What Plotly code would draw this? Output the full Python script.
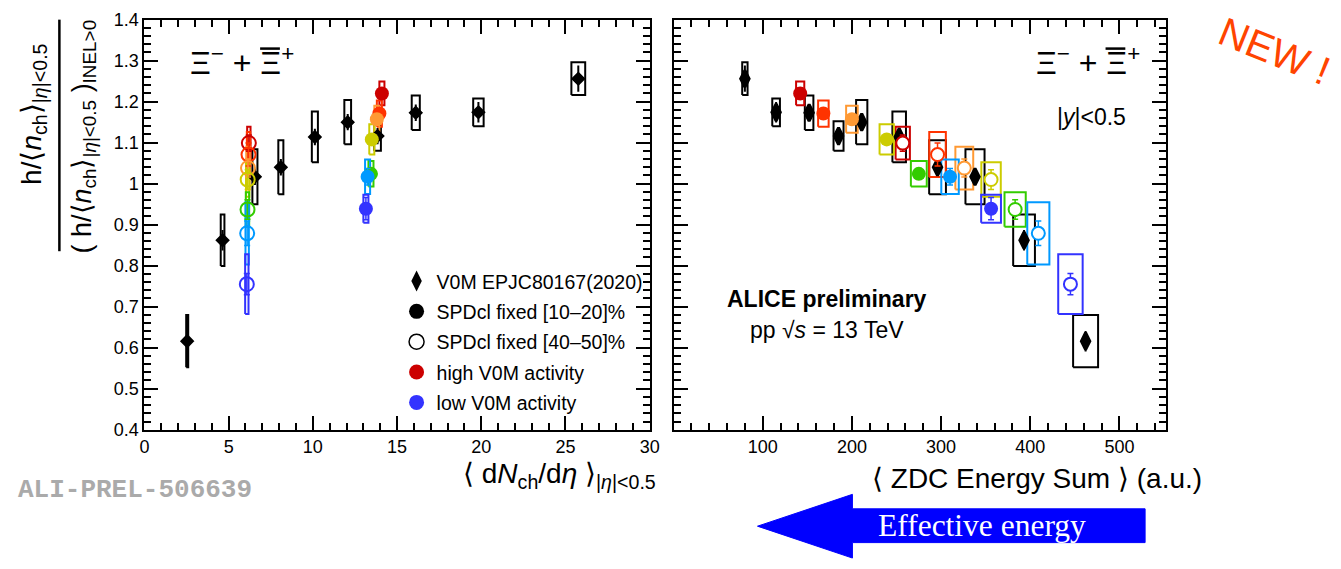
import plotly.graph_objects as go

# ---------------- data ----------------
# V0M multiplicity classes (EPJC 80 167 (2020))
dnch_v0m = [25.76, 19.83, 16.11, 13.84, 12.07, 10.12, 8.10, 6.56, 4.64, 2.54]
zdc_v0m = [80, 115, 152, 185, 211, 253, 296, 338, 393, 462]
ratio_v0m = [1.256, 1.174, 1.173, 1.116, 1.150, 1.114, 1.040, 1.017, 0.862, 0.616]
stat_v0m = [0.032, 0.025, 0.020, 0.020, 0.020, 0.020, 0.020, 0.020, 0.025, 0.025]
syst_v0m = [0.040, 0.034, 0.042, 0.036, 0.054, 0.062, 0.066, 0.067, 0.063, 0.0635]
sxd_v0m = [0.41, 0.31, 0.24, 0.20, 0.20, 0.18, 0.15, 0.15, 0.11, 0.06]
sxz_v0m = [3.0, 4.3, 4.8, 5.6, 6.3, 7.6, 9.4, 10.7, 12.2, 14.0]

# V0M activity classes, from high (red) to low (blue)
activity_colors = ["#cc0000", "#ff3300", "#ff9933", "#cccc00", "#33cc00", "#0099ff", "#3333ff"]

# SPD clusters fixed [10-20]%
dnch_hi = [14.10, 13.95, 13.80, 13.50, 13.45, 13.25, 13.15]
zdc_hi = [142, 168, 200, 239, 275, 310, 356]
ratio_hi = [1.220, 1.171, 1.157, 1.108, 1.024, 1.017, 0.939]
stat_hi = [0.012, 0.012, 0.012, 0.012, 0.012, 0.020, 0.027]
syst_hi = [0.029, 0.032, 0.033, 0.037, 0.031, 0.042, 0.034]
sxz_hi = [4.6, 5.9, 6.5, 8.0, 8.9, 9.8, 11.1]
sxd_hi = [0.15] * 7

# SPD clusters fixed [40-50]%
dnch_lo = [6.20, 6.18, 6.15, 6.13, 6.12, 6.10, 6.08]
zdc_lo = [257, 296, 326, 356, 383, 409, 445]
ratio_lo = [1.099, 1.071, 1.038, 1.010, 0.937, 0.879, 0.755]
stat_lo = [0.020, 0.028, 0.022, 0.024, 0.024, 0.030, 0.026]
syst_lo = [0.040, 0.055, 0.052, 0.042, 0.042, 0.076, 0.073]
sxz_lo = [8.0, 9.3, 10.0, 10.9, 11.9, 12.4, 13.7]
sxd_lo = [0.10] * 7

W, H = 1341, 569
FONT = "Liberation Sans, Arial, Helvetica, sans-serif"


def px(x):
    return x / W


def py(y):
    return 1 - y / H


def box_path(xc, yc, dx, dy):
    bx, by = [], []
    for x, y, ex, ey in zip(xc, yc, dx, dy):
        bx += [x - ex, x + ex, x + ex, x - ex, x - ex, None]
        by += [y - ey, y - ey, y + ey, y + ey, y - ey, None]
    return bx, by


fig = go.Figure()

panels = [
    ("x", "y", dnch_v0m, sxd_v0m, dnch_hi, sxd_hi, dnch_lo, sxd_lo,
     dict(symbol="diamond", size=9, line=dict(color="black", width=2)), False),
    ("x2", "y2", zdc_v0m, sxz_v0m, zdc_hi, sxz_hi, zdc_lo, sxz_lo,
     dict(symbol="diamond-tall", size=12, line=dict(color="black", width=3)), True),
]

for xa, ya, xv, sxv, xh, sxh, xl, sxl, dmark, white_open in panels:
    # systematic boxes
    bx, by = box_path(xv, ratio_v0m, sxv, syst_v0m)
    fig.add_trace(go.Scatter(x=bx, y=by, mode="lines", xaxis=xa, yaxis=ya,
                             line=dict(color="black", width=2), showlegend=False,
                             hoverinfo="skip"))
    for i, c in enumerate(activity_colors):
        bx, by = box_path([xl[i]], [ratio_lo[i]], [sxl[i]], [syst_lo[i]])
        fig.add_trace(go.Scatter(x=bx, y=by, mode="lines", xaxis=xa, yaxis=ya,
                                 line=dict(color=c, width=2), showlegend=False,
                                 hoverinfo="skip"))
        bx, by = box_path([xh[i]], [ratio_hi[i]], [sxh[i]], [syst_hi[i]])
        fig.add_trace(go.Scatter(x=bx, y=by, mode="lines", xaxis=xa, yaxis=ya,
                                 line=dict(color=c, width=2), showlegend=False,
                                 hoverinfo="skip"))
    # V0M points
    fig.add_trace(go.Scatter(
        x=xv, y=ratio_v0m, mode="markers", xaxis=xa, yaxis=ya, showlegend=False,
        marker=dict(color="black", **dmark),
        error_y=dict(type="data", array=stat_v0m, color="black", thickness=2, width=0)))
    # activity classes
    for i, c in enumerate(activity_colors):
        if white_open:
            omark = dict(symbol="circle", size=13, color="white", line=dict(color=c, width=2))
        else:
            omark = dict(symbol="circle-open", size=14, color=c, line=dict(color=c, width=2))
        fig.add_trace(go.Scatter(
            x=[xl[i]], y=[ratio_lo[i]], mode="markers", xaxis=xa, yaxis=ya, showlegend=False,
            marker=omark,
            error_y=dict(type="data", array=[stat_lo[i]], color=c, thickness=1.5, width=3)))
        fig.add_trace(go.Scatter(
            x=[xh[i]], y=[ratio_hi[i]], mode="markers", xaxis=xa, yaxis=ya, showlegend=False,
            marker=dict(symbol="circle", size=14, color=c, line=dict(width=0)),
            error_y=dict(type="data", array=[stat_hi[i]], color=c, thickness=1.5, width=3)))

# legend entries
legend_items = [
    ("V0M EPJC80167(2020)", dict(symbol="diamond-tall", size=15, color="black")),
    ("SPDcl fixed [10\u201320]%", dict(symbol="circle", size=15, color="black")),
    ("SPDcl fixed [40\u201350]%", dict(symbol="circle-open", size=15, color="black", line=dict(width=1.5))),
    ("high V0M activity", dict(symbol="circle", size=15, color=activity_colors[0])),
    ("low V0M activity", dict(symbol="circle", size=15, color=activity_colors[-1])),
]
for k, (name, mk) in enumerate(legend_items):
    fig.add_trace(go.Scatter(x=[None], y=[None], mode="markers", name=name, marker=mk,
                             legendgroup=f"g{k}", xaxis="x", yaxis="y"))

axis_common = dict(showline=True, linewidth=2, linecolor="black", mirror="allticks",
                   ticks="inside", ticklen=14, tickwidth=1.5, tickcolor="black",
                   showgrid=False, zeroline=False,
                   tickfont=dict(family=FONT, size=18, color="black"))
minor_common = dict(ticklen=7, ticks="inside", tickcolor="black", tickwidth=1.5)

ydom = [py(435), py(10)]
fig.update_layout(
    width=W, height=H, autosize=False,
    margin=dict(l=0, r=0, t=0, b=0),
    paper_bgcolor="white", plot_bgcolor="white",
    xaxis=dict(domain=[px(141), px(652)], range=[0, 30], dtick=5, tick0=0,
               minor=dict(dtick=1, **minor_common), anchor="y", **axis_common),
    yaxis=dict(domain=ydom, range=[0.4, 1.4], dtick=0.1, tick0=0.4,
               minor=dict(dtick=0.02, **minor_common), anchor="x", **axis_common),
    xaxis2=dict(domain=[px(677), px(1174)], range=[1, 552], dtick=100, tick0=0,
                minor=dict(dtick=20, **minor_common), anchor="y2", **axis_common),
    yaxis2=dict(domain=ydom, range=[0.4, 1.4], dtick=0.1, tick0=0.4, showticklabels=False,
                minor=dict(dtick=0.02, **minor_common), anchor="x2", **axis_common),
    legend=dict(x=px(396), y=py(261), xanchor="left", yanchor="top",
                bgcolor="rgba(0,0,0,0)", borderwidth=0, tracegroupgap=2,
                font=dict(family=FONT, size=19.5, color="black"),
                itemsizing="trace"),
    showlegend=True,
)

ann = []


def text(x, y, s, size, **kw):
    d = dict(x=px(x), y=py(y), xref="paper", yref="paper", text=s, showarrow=False,
             font=dict(family=kw.pop("family", FONT), size=size, color=kw.pop("color", "black")),
             xanchor=kw.pop("xanchor", "center"), yanchor=kw.pop("yanchor", "middle"))
    d.update(kw)
    ann.append(d)


xi_text = "\u039e<sup>\u2212</sup> + \u039e<sup>+</sup>"
xi_centers = [240, 1095]
for xc in xi_centers:
    text(xc, 53, xi_text, 32)
text(1099, 111, "|<i>y</i>|&lt;0.5", 23)
text(831, 300, "<b>ALICE preliminary</b>", 23)
text(831, 332, "pp \u221a<i>s</i> = 13 TeV", 23)

# axis titles
text(29, 108, "h/\u27e8<i>n</i><sub>ch</sub>\u27e9<sub>|<i>\u03b7</i>|&lt;0.5</sub>", 28,
     textangle=-90)
text(80, 131, "( h/\u27e8<i>n</i><sub>ch</sub>\u27e9<sub>|<i>\u03b7</i>|&lt;0.5</sub> )"
     "<sub>INEL&gt;0</sub>", 27, textangle=-90)
text(660, 482, "\u27e8 d<i>N</i><sub>ch</sub>/d<i>\u03b7</i> \u27e9<sub>|<i>\u03b7</i>|&lt;0.5</sub>",
     28, xanchor="right")
text(1213, 486, "\u27e8 ZDC Energy Sum \u27e9 (a.u.)", 28, xanchor="right")

text(131, 497, "<b>ALI-PREL-506639</b>", 26, family="Liberation Mono, monospace",
     color="#aaaaaa")
text(988, 534, "Effective energy", 31.5, family="Liberation Serif, Times New Roman, serif",
     color="white")
text(1284, 42, "NEW !", 40, color="#ff4400", textangle=22)

fig.update_layout(annotations=ann)

# fraction bar of the y title, anti-particle bars and the effective-energy arrow
shapes = [
    dict(type="line", xref="paper", yref="paper", x0=px(55), x1=px(55), y0=py(10), y1=py(250),
         line=dict(color="black", width=2.5)),
]
for xc in xi_centers:
    shapes.append(dict(type="line", xref="paper", yref="paper", x0=px(xc + 18), x1=px(xc + 38),
                       y0=py(40), y1=py(40), line=dict(color="black", width=2.5)))
arrow = [(761, 535), (857, 502), (857, 517), (1153, 517), (1153, 552), (857, 552), (857, 568)]
path = "M " + " L ".join(f"{px(a):.5f},{py(b):.5f}" for a, b in arrow) + " Z"
shapes.append(dict(type="path", xref="paper", yref="paper", path=path, fillcolor="#0000ff",
                   line=dict(color="#0000ff", width=1), layer="below"))
fig.update_layout(shapes=shapes)

fig.write_html("out.html")
